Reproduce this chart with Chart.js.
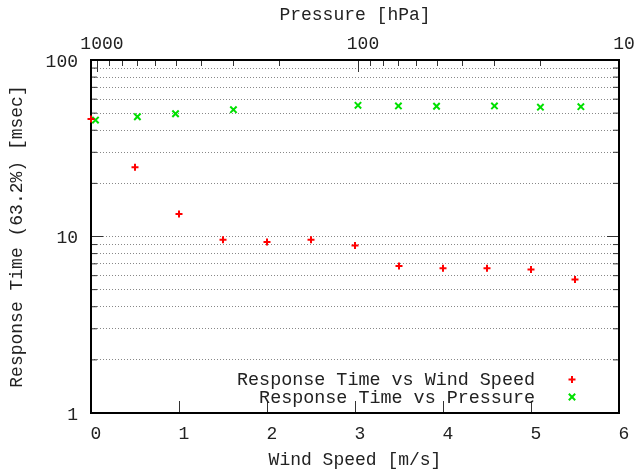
<!DOCTYPE html>
<html>
<head>
<meta charset="utf-8">
<script src="https://cdn.jsdelivr.net/npm/chart.js@4/dist/chart.umd.min.js"></script>
<style>
  html, body { margin: 0; padding: 0; background: #fff; }
  #wrap { width: 637px; height: 471px; }
</style>
</head>
<body>
<div id="wrap"><canvas id="chart" width="637" height="471"></canvas></div>
<script>
// Response time chart - wind speed (bottom axis) and pressure (top axis)
const windSpeed = [0, 0.5, 1, 1.5, 2, 2.5, 3, 3.5, 4, 4.5, 5, 5.5];
const respWind = [46.3, 24.7, 13.4, 9.6, 9.3, 9.6, 8.9, 6.8, 6.6, 6.6, 6.5, 5.7];

const pressure = [1013, 700, 500, 300, 100, 70, 50, 30, 20, 14];
const respPressure = [45.7, 47.7, 49.6, 52.3, 55.4, 54.9, 54.7, 54.9, 54.0, 54.4];

const yTicks = [1, 2, 3, 4, 5, 6, 7, 8, 9, 10, 20, 30, 40, 50, 60, 70, 80, 90, 100];
const yLabels = [1, 10, 100];
const pTicks = [10, 20, 30, 40, 50, 60, 70, 80, 90, 100, 200, 300, 400, 500, 600, 700, 800, 900, 1000];
const pLabels = [10, 100, 1000];
const windTicks = [0, 1, 2, 3, 4, 5, 6];

const FONT = { family: "'Liberation Mono', 'DejaVu Sans Mono', monospace", size: 18 };
const TEXT = '#222';

// fixed box sizes so the plot area lands where gnuplot put it
function fixBox(size) {
  return function(scale) {
    if (scale.isHorizontal()) scale.height = size; else scale.width = size;
    scale.paddingLeft = 0; scale.paddingRight = 0;
    scale.paddingTop = 0; scale.paddingBottom = 0;
  };
}
function setTicks(values) {
  return function(scale) { scale.ticks = values.map(v => ({ value: v })); };
}

// frame + inward tick marks (gnuplot style)
const frameTicks = {
  id: 'frameTicks',
  beforeDatasetsDraw(chart) {
    const { ctx, chartArea: a, scales } = chart;
    ctx.save();
    ctx.strokeStyle = '#333';
    ctx.lineWidth = 1;
    const seg = (x1, y1, x2, y2) => { ctx.beginPath(); ctx.moveTo(x1, y1); ctx.lineTo(x2, y2); ctx.stroke(); };

    yTicks.forEach(v => {
      const y = scales.y.getPixelForValue(v);
      const len = yLabels.includes(v) ? 12 : 6;
      seg(a.left, y, a.left + len, y);
      seg(a.right, y, a.right - len, y);
    });
    windTicks.forEach(v => {
      const x = Math.round(scales.x.getPixelForValue(v)) + 0.5;
      seg(x, a.bottom, x, a.bottom - 12);
    });
    pTicks.forEach(v => {
      const x = Math.round(scales.x2.getPixelForValue(v)) + 0.5;
      const len = pLabels.includes(v) ? 12 : 6;
      seg(x, a.top, x, a.top + len);
    });

    ctx.strokeStyle = '#000';
    ctx.lineWidth = 2;
    ctx.strokeRect(a.left, a.top, a.right - a.left, a.bottom - a.top);
    ctx.restore();
  }
};

// key inside the plot, bottom right, text right-aligned, marker to the right
const keyBox = {
  id: 'keyBox',
  afterDatasetsDraw(chart) {
    const { ctx } = chart;
    const rows = [380.5, 398];
    ctx.save();
    ctx.font = `18.4px ${FONT.family}`;
    ctx.fillStyle = TEXT;
    ctx.textAlign = 'right';
    ctx.textBaseline = 'middle';
    chart.data.datasets.forEach((ds, i) => {
      ctx.fillText(ds.label, 535, rows[i]);
      ctx.strokeStyle = ds.borderColor;
      ctx.fillStyle = ds.borderColor;
      Chart.helpers.drawPoint(ctx, {
        pointStyle: ds.pointStyle, radius: ds.pointRadius, rotation: 0, borderWidth: ds.borderWidth
      }, 572, rows[i] - 1);
      ctx.fillStyle = TEXT;
    });
    ctx.restore();
  }
};

new Chart(document.getElementById('chart'), {
  type: 'scatter',
  data: {
    datasets: [
      {
        label: 'Response Time vs Wind Speed',
        data: windSpeed.map((w, i) => ({ x: w, y: respWind[i] })),
        xAxisID: 'x', yAxisID: 'y',
        pointStyle: 'cross', pointRadius: 3.5, borderWidth: 2,
        borderColor: '#ff0000', backgroundColor: '#ff0000',
        clip: false
      },
      {
        label: 'Response Time vs Pressure',
        data: pressure.map((p, i) => ({ x: p, y: respPressure[i] })),
        xAxisID: 'x2', yAxisID: 'y',
        pointStyle: 'crossRot', pointRadius: 4.5, borderWidth: 2,
        borderColor: '#00e000', backgroundColor: '#00e000',
        clip: false
      }
    ]
  },
  options: {
    responsive: false,
    animation: false,
    layout: { padding: { left: 0, right: 18, top: 0, bottom: 0 } },
    plugins: { legend: { display: false }, tooltip: { enabled: false } },
    elements: { point: { hoverRadius: 4 } },
    scales: {
      x: {
        type: 'linear', position: 'bottom', min: 0, max: 6,
        afterFit: fixBox(58),
        afterBuildTicks: setTicks(windTicks),
        grid: { display: false, drawTicks: false },
        border: { display: false },
        ticks: { font: FONT, color: TEXT, padding: 10, labelOffset: 5, maxRotation: 0, autoSkip: false },
        title: { display: true, text: 'Wind Speed [m/s]', font: FONT, color: TEXT, padding: { bottom: 0 } }
      },
      x2: {
        type: 'logarithmic', position: 'top', reverse: true, min: 10, max: 1054,
        afterFit: fixBox(60),
        afterBuildTicks: setTicks(pTicks),
        grid: { display: false, drawTicks: false },
        border: { display: false },
        ticks: {
          font: FONT, color: TEXT, padding: 5, labelOffset: 5, maxRotation: 0, autoSkip: false,
          callback: v => pLabels.includes(v) ? String(v) : ''
        },
        title: { display: true, text: 'Pressure [hPa]', font: FONT, color: TEXT, padding: { top: 4 } }
      },
      y: {
        type: 'logarithmic', position: 'left', min: 1, max: 100,
        afterFit: fixBox(91),
        afterBuildTicks: setTicks(yTicks),
        grid: { display: true, drawTicks: false, color: '#888', lineWidth: 1 },
        border: { display: false, dash: [1, 2] },
        ticks: {
          font: FONT, color: TEXT, padding: 13, labelOffset: 2, autoSkip: false,
          callback: v => yLabels.includes(v) ? String(v) : ''
        },
        title: { display: true, text: 'Response Time (63.2%) [msec]', font: FONT, color: TEXT, padding: { top: 6 } }
      }
    }
  },
  plugins: [frameTicks, keyBox]
});
</script>
</body>
</html>
